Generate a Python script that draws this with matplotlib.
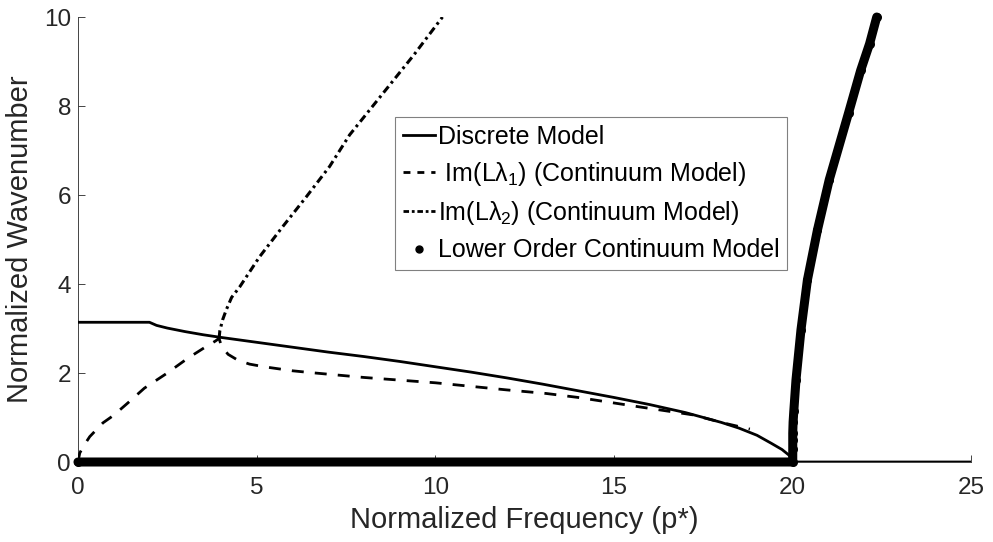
import matplotlib
matplotlib.use("Agg")
import matplotlib.pyplot as plt
from matplotlib.lines import Line2D

plt.rcParams["font.family"] = ["Liberation Sans", "DejaVu Sans"]
plt.rcParams["mathtext.fontset"] = "custom"
plt.rcParams["mathtext.rm"] = "Liberation Sans"
plt.rcParams["mathtext.it"] = "Liberation Sans"

# Discrete model (continues along zero after cutoff)
p_disc = [0, 2.0, 2.2, 2.5, 3.0, 3.5, 4.0, 5, 6, 7, 8, 9, 10, 11, 12, 13, 14,
          15, 16, 17, 18, 18.5, 19, 19.4, 19.7, 19.9, 20.0, 25.0]
k_disc = [3.14, 3.14, 3.07, 3.01, 2.93, 2.86, 2.80, 2.69, 2.58, 2.47, 2.37,
          2.26, 2.14, 2.02, 1.89, 1.75, 1.60, 1.45, 1.29, 1.11, 0.89, 0.76,
          0.60, 0.42, 0.28, 0.15, 0.0, 0.0]

# Im(L lambda_1), continuum model
p_l1 = [0, 0.05, 0.15, 0.33, 0.7, 1.0, 1.4, 1.86, 2.5, 3.07, 3.5, 3.85, 3.95,
        3.97, 4.02, 4.2, 4.47, 4.8, 5.21, 6.0, 6.5, 8, 10, 12, 13.1, 14, 15.7,
        17.2, 18.1, 18.8]
k_l1 = [0, 0.2, 0.35, 0.57, 0.88, 1.05, 1.33, 1.66, 2.0, 2.33, 2.55, 2.72, 2.78,
        2.72, 2.6, 2.42, 2.29, 2.2, 2.14, 2.05, 2.01, 1.9, 1.78, 1.62, 1.54,
        1.45, 1.24, 1.06, 0.87, 0.74]

# Im(L lambda_2), continuum model
p_l2 = [3.95, 3.97, 4.05, 4.15, 4.3, 4.53, 5.08, 5.73, 6.39, 7.04, 7.6, 8.5,
        9.4, 10.2]
k_l2 = [2.78, 2.95, 3.2, 3.42, 3.7, 3.94, 4.61, 5.29, 5.96, 6.64, 7.35, 8.25,
        9.15, 10.0]

# Lower order continuum model
p_low = [0, 20.0, 20.0, 20.0, 20.0, 20.01, 20.03, 20.09, 20.23, 20.41, 20.69,
         21.02, 21.56, 21.9, 22.15, 22.35]
k_low = [0, 0, 0.29, 0.49, 0.65, 0.9, 1.15, 1.84, 2.97, 4.09, 5.21, 6.34, 7.84,
         8.8, 9.4, 10.0]

fig = plt.figure(figsize=(9.93, 5.42), dpi=100)
ax = fig.add_axes([0.0785, 0.1476, 0.8998, 0.821])

ax.plot(p_low, k_low, color="k", lw=6.5, marker="o", ms=6.5, mew=0,
        solid_capstyle="round", solid_joinstyle="round", clip_on=False, zorder=3)
ax.plot(p_disc, k_disc, color="k", lw=2, zorder=4)
ax.plot(p_l1, k_l1, color="k", lw=2, dashes=(4.3, 4.0), zorder=4)
ax.plot(p_l2, k_l2, color="k", lw=2.2, dashes=(2.6, 1.3, 0.9, 1.3), zorder=4)

ax.set_xlim(0, 25)
ax.set_ylim(0, 10)
ax.set_xticks([0, 5, 10, 15, 20, 25])
ax.set_yticks([0, 2, 4, 6, 8, 10])
ax.spines["top"].set_visible(False)
ax.spines["right"].set_visible(False)
for s in ("left", "bottom"):
    ax.spines[s].set_color("#262626")
    ax.spines[s].set_linewidth(0.6)
ax.tick_params(direction="in", length=5, width=0.6, colors="#262626",
               labelsize=17.5)
ax.tick_params(axis="x", pad=11)
ax.tick_params(axis="y", pad=5)
ax.set_xlabel("Normalized Frequency (p*)", fontsize=21, color="#262626")
ax.set_ylabel("Normalized Wavenumber", fontsize=21, color="#262626")
ax.xaxis.set_label_coords(0.5, -0.1)
ax.yaxis.set_label_coords(-0.049, 0.5)

handles = [
    Line2D([], [], color="k", lw=2),
    Line2D([], [], color="k", lw=2, dashes=(2.5, 2.5)),
    Line2D([], [], color="k", lw=2, dashes=(2.0, 1.0, 1.0, 1.0)),
    Line2D([], [], color="k", ls="none", marker="o", ms=5),
]
labels = [
    "Discrete Model",
    r" Im(L$\lambda_1$) (Continuum Model)",
    r"Im(L$\lambda_2$) (Continuum Model)",
    "Lower Order Continuum Model",
]
leg = ax.legend(handles, labels, loc="upper left", bbox_to_anchor=(0.398, 0.784),
                bbox_transform=fig.transFigure, borderaxespad=0, fontsize=18,
                fancybox=False, framealpha=1, edgecolor="#808080",
                handlelength=1.3, handletextpad=0.1, labelspacing=0.45,
                borderpad=0.3)
leg.get_frame().set_linewidth(0.8)

fig.savefig("out.png", dpi=100)
